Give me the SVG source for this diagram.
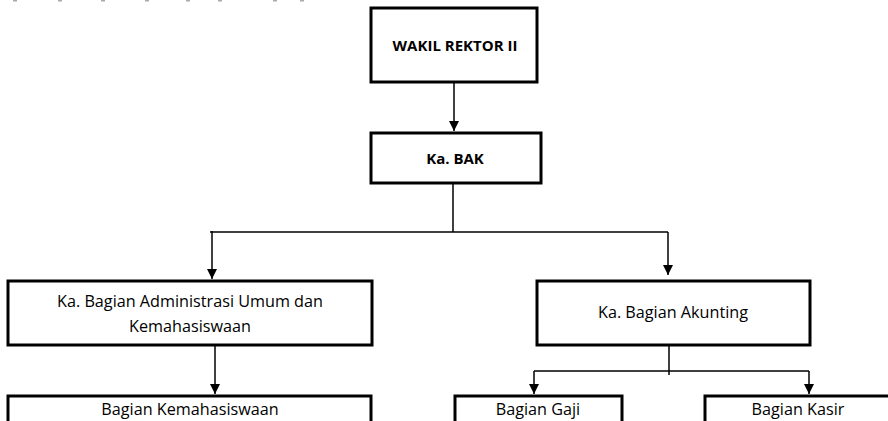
<svg xmlns="http://www.w3.org/2000/svg" width="888" height="421" viewBox="0 0 888 421">
<style>
.box{fill:#fff;stroke:#000;stroke-width:3}
.ln{fill:none;stroke:#000;stroke-width:1.5}
.t{font-family:"Open Sans","Liberation Sans",sans-serif;font-size:16.2px;fill:#000;text-anchor:middle}
.b{font-weight:bold;font-size:15px}
.mark{fill:#aaa}
</style>
<defs>
<marker id="ah" viewBox="0 0 10 10" refX="10" refY="5" markerWidth="10" markerHeight="10" markerUnits="userSpaceOnUse" orient="auto">
<path d="M0,0 L10,5 L0,10 Z" fill="#000"/>
</marker>
</defs>
<rect width="888" height="421" fill="#fff"/>
<g id="marks">
<rect class="mark" x="13" y="0" width="4" height="1.5"/>
<rect class="mark" x="58" y="0" width="4" height="1.5"/>
<rect class="mark" x="101" y="0" width="4" height="1.5"/>
<rect class="mark" x="145" y="0" width="4" height="1.5"/>
<rect class="mark" x="186" y="0" width="4" height="1.5"/>
<rect class="mark" x="218" y="0" width="4" height="1.5"/>
<rect class="mark" x="273" y="0" width="4" height="1.5"/>
<rect class="mark" x="300" y="0" width="4" height="1.5"/>
</g>
<g id="connectors">
<line class="ln" x1="454" y1="82" x2="454" y2="131" marker-end="url(#ah)"/>
<line class="ln" x1="453" y1="183" x2="453" y2="232"/>
<line class="ln" x1="210" y1="232" x2="668" y2="232"/>
<line class="ln" x1="212" y1="231" x2="212" y2="279" marker-end="url(#ah)"/>
<line class="ln" x1="668" y1="232" x2="668" y2="275" marker-end="url(#ah)"/>
<line class="ln" x1="215" y1="345" x2="215" y2="394" marker-end="url(#ah)"/>
<line class="ln" x1="669" y1="345" x2="669" y2="375"/>
<line class="ln" x1="534" y1="371" x2="809" y2="371"/>
<line class="ln" x1="534" y1="371" x2="534" y2="394" marker-end="url(#ah)"/>
<line class="ln" x1="809" y1="371" x2="809" y2="394" marker-end="url(#ah)"/>
</g>
<g id="wakil">
<rect class="box" x="371" y="8" width="166" height="74"/>
<text class="t b" x="455" y="51">WAKIL REKTOR II</text>
</g>
<g id="kabak">
<rect class="box" x="371" y="133" width="170" height="50"/>
<text class="t b" x="455" y="164">Ka. BAK</text>
</g>
<g id="adm">
<rect class="box" x="8" y="281" width="364" height="64"/>
<text class="t" x="190" y="307">Ka. Bagian Administrasi Umum dan</text>
<text class="t" x="190" y="332">Kemahasiswaan</text>
</g>
<g id="akunting">
<rect class="box" x="537" y="281" width="273" height="64"/>
<text class="t" x="673" y="318">Ka. Bagian Akunting</text>
</g>
<g id="kemahasiswaan">
<rect class="box" x="8" y="396" width="363" height="40"/>
<text class="t" x="190" y="415">Bagian Kemahasiswaan</text>
</g>
<g id="gaji">
<rect class="box" x="455" y="396" width="167" height="40"/>
<text class="t" x="538" y="415">Bagian Gaji</text>
</g>
<g id="kasir">
<rect class="box" x="705" y="396" width="190" height="40"/>
<text class="t" x="798" y="415">Bagian Kasir</text>
</g>
</svg>
